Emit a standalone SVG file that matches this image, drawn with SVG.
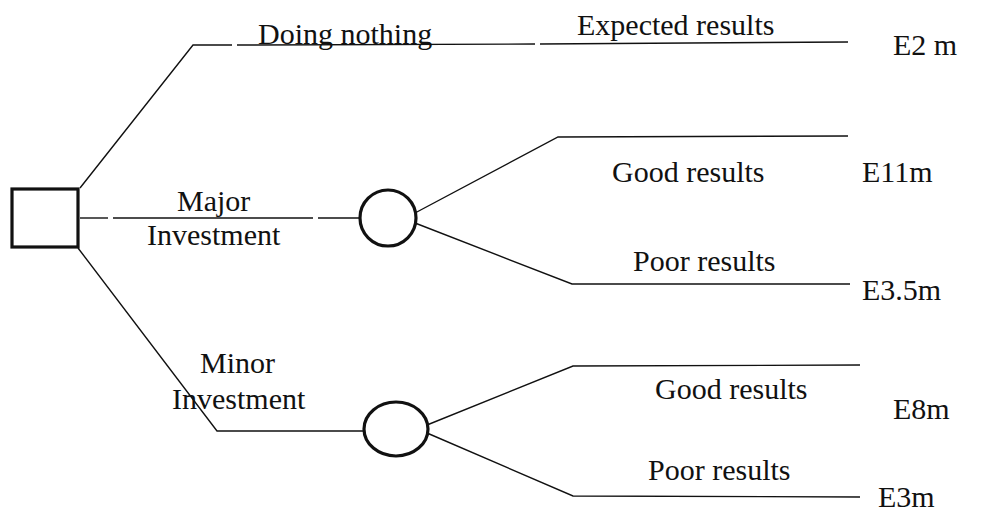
<svg xmlns="http://www.w3.org/2000/svg" width="990" height="512" viewBox="0 0 990 512">
<style>
.ln{fill:none;stroke:#111;stroke-width:1.4;stroke-linejoin:miter}
.nd{fill:#fff;stroke:#111;stroke-width:3.2}
text{font-family:"Liberation Serif","Times New Roman",serif;font-size:30px;fill:#111}
</style>
<rect width="990" height="512" fill="#fff"/>
<g id="connectors">
<polyline class="ln" points="80,188 193,45 232,45"/>
<polyline class="ln" points="237,45 535,44"/>
<polyline class="ln" points="540,44 848,42"/>
<polyline class="ln" points="80,218 108,218"/>
<polyline class="ln" points="113,218 313,218"/>
<polyline class="ln" points="318,218 360,218"/>
<polyline class="ln" points="415,213 558,137 848,136"/>
<polyline class="ln" points="415,223 572,284 850,284"/>
<polyline class="ln" points="78,248 217,431 364,431"/>
<polyline class="ln" points="427,425 573,366 860,365"/>
<polyline class="ln" points="427,433 573,496 860,497"/>
</g>
<g id="decision"><rect class="nd" x="12" y="189" width="66" height="58"/></g>
<g id="chance-major"><circle class="nd" cx="388" cy="218" r="28"/></g>
<g id="chance-minor"><ellipse class="nd" cx="396" cy="429" rx="32" ry="27"/></g>
<g id="labels">
<text x="258" y="44">Doing nothing</text>
<text x="577" y="35">Expected results</text>
<text x="177" y="211">Major</text>
<text x="147" y="245">Investment</text>
<text x="612" y="182">Good results</text>
<text x="633" y="271">Poor results</text>
<text x="200" y="373">Minor</text>
<text x="172" y="409">Investment</text>
<text x="655" y="399">Good results</text>
<text x="648" y="480">Poor results</text>
</g>
<g id="outcomes">
<text x="893" y="55">E2 m</text>
<text x="862" y="182">E11m</text>
<text x="862" y="300">E3.5m</text>
<text x="893" y="419">E8m</text>
<text x="878" y="507">E3m</text>
</g>
</svg>
